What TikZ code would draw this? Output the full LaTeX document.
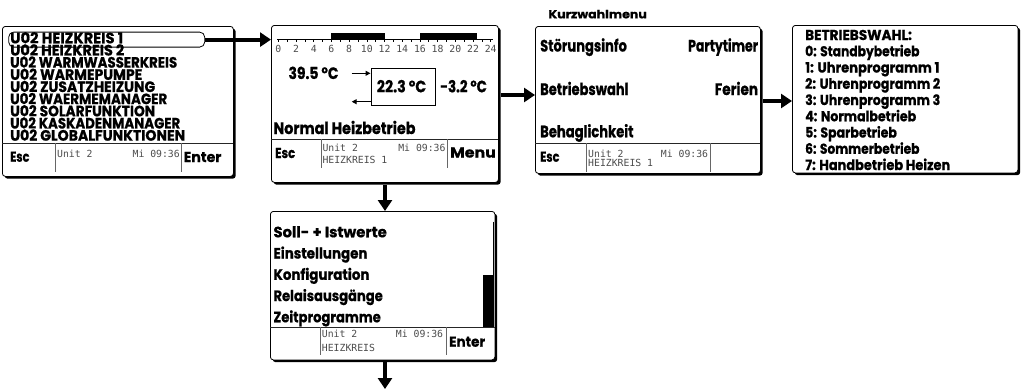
\documentclass[tikz,border=0pt]{standalone}
\usepackage{fontspec}
\usetikzlibrary{arrows.meta,shadows}
\newfontfamily\pop{Poppins}[BoldFeatures={FakeBold=0.8}]
\newfontfamily\lcd{DejaVu Sans Mono}
\definecolor{lcdgray}{gray}{0.3}
\newcommand\fw[2]{\resizebox{#1pt}{\height}{#2}}
\tikzset{
 screen/.style={draw, line width=0.8pt, fill=white, rounded corners=3pt, inner sep=0pt, anchor=north west,
   drop shadow={shadow xshift=2.3pt, shadow yshift=-2.3pt, fill=black, opacity=1}},
 lbl/.style={inner sep=0pt, anchor=base west, font=\pop\bfseries\fontsize{15}{15}\selectfont},
 lblr/.style={lbl, anchor=base east},
 big/.style={font=\pop\bfseries\fontsize{16.5}{16.5}\selectfont},
 sml/.style={font=\pop\bfseries\fontsize{14.3}{14.3}\selectfont},
 mono/.style={inner sep=0pt, anchor=base west, text=lcdgray, font=\lcd\fontsize{9.8}{9.8}\selectfont},
 monor/.style={mono, anchor=base east},
 sepline/.style={line width=0.7pt, black!85},
 divline/.style={line width=0.6pt, black!60},
 fat/.style={line width=4pt, -{Triangle[length=11pt,width=14pt]}},
 slim/.style={line width=1.2pt, -{Triangle[length=5pt,width=5pt]}},
}
\begin{document}
\begin{tikzpicture}[x=1pt,y=-1pt]
\useasboundingbox (0,0) rectangle (1023,389);

% ---------- Box 1
\node[screen, minimum width=231pt, minimum height=150pt] (b1) at (2,26) {};
\node[draw, rounded corners=5pt, line width=0.8pt, minimum width=196pt, minimum height=15pt,
      anchor=north west, inner sep=0pt] (hl) at (8.3,31.7) {};
\foreach \w/\t [count=\i from 0] in {113/U02 HEIZKREIS 1,114/U02 HEIZKREIS 2,167/U02 WARMWASSERKREIS,132/U02 WARMEPUMPE,145/U02 ZUSATZHEIZUNG,157/U02 WAERMEMANAGER,145/U02 SOLARFUNKTION,170/U02 KASKADENMANAGER,175/U02 GLOBALFUNKTIONEN}
  \node[lbl] (m\i) at (10,43.3+12.17*\i) {\fw{\w}{\t}};
\draw[sepline] (2,143) -- (233,143);
\draw[divline] (55,143) -- (55,172);
\draw[divline] (181,143) -- (181,172);
\node[lbl, sml] (esc1) at (10,161.7) {\fw{19.3}{Esc}};
\node[mono] (u1) at (57,157) {Unit 2};
\node[monor] (t1) at (180,157) {Mi 09:36};
\node[lbl, sml] (ent1) at (183.5,162) {\fw{37.7}{Enter}};

% ---------- Box 2
\node[screen, minimum width=227pt, minimum height=157pt] (b2) at (271,25) {};
\draw[line width=0.9pt] (277,39.5) -- (493,39.5);
\foreach \h in {0,...,24} \draw[line width=0.6pt] (278.3+8.85*\h,39.5) -- (278.3+8.85*\h,42);
\fill (278.3+8.85*6,33) rectangle (278.3+8.85*12,39.5);
\fill (278.3+8.85*16,33) rectangle (278.3+8.85*22.5,39.5);
\foreach \h in {0,2,...,24} \node[mono, anchor=base] (h\h) at (278.3+8.85*\h,52) {\h};
\node[lbl, big] (tv) at (288.3,79) {\fw{50}{39.5 °C}};
\node[draw, line width=0.8pt, minimum width=64.5pt, minimum height=36.7pt, anchor=north west, inner sep=0pt] (tbox) at (370.5,68.3) {};
\node[lbl, big] (tr) at (376.7,92.3) {\fw{49.3}{22.3 °C}};
\node[lbl, big] (ta) at (440,92.3) {\fw{46.7}{-3.2 °C}};
\coordinate (a1) at (351.7,73.3);
\coordinate (a2) at (351.7,101.7);
\draw[slim] (a1) -- (tbox.west |- a1);
\draw[slim] (tbox.west |- a2) -- (a2);
\node[lbl, big] (mode) at (273.3,134) {\fw{142}{Normal Heizbetrieb}};
\draw[sepline] (271,139) -- (498,139);
\draw[divline] (321,139) -- (321,168);
\draw[divline] (447,139) -- (447,168);
\node[lbl, sml] (esc2) at (275,158) {\fw{20}{Esc}};
\node[mono] (u2) at (322.3,151.5) {Unit 2};
\node[mono] (k2) at (322.3,163.3) {HEIZKREIS 1};
\node[monor] (t2) at (445.7,151.5) {Mi 09:36};
\node[lbl, sml] (menu) at (450,157.5) {\fw{45.7}{Menu}};

% ---------- Box 3
\node[lbl, font=\pop\bfseries\fontsize{11.5}{11.5}\selectfont] (kw) at (548.3,18.3) {\fw{98.3}{Kurzwahlmenu}};
\node[screen, minimum width=225pt, minimum height=147pt] (b3) at (535,26) {};
\node[lbl, big] (s1) at (540,51.5) {\fw{86.7}{Störungsinfo}};
\node[lblr, big] (s2) at (758.3,51.5) {\fw{70}{Partytimer}};
\node[lbl, big] (s3) at (540,95) {\fw{88.3}{Betriebswahl}};
\node[lblr, big] (s4) at (758.3,95) {\fw{43.3}{Ferien}};
\node[lbl, big] (s5) at (540,137.3) {\fw{93.3}{Behaglichkeit}};
\draw[sepline] (535,143.3) -- (760,143.3);
\draw[divline] (586,143.3) -- (586,171.7);
\draw[divline] (710,143.3) -- (710,171.7);
\node[lbl, sml] (esc3) at (540,161.7) {\fw{19.3}{Esc}};
\node[mono] (u3) at (588,157) {Unit 2};
\node[mono] (k3) at (588,166.7) {HEIZKREIS 1};
\node[monor] (t3) at (708.3,157) {Mi 09:36};

% ---------- Box 4
\node[screen, minimum width=225.5pt, minimum height=147.5pt] (b4) at (792,25) {};
\foreach \w/\t [count=\i from 0] in {106.7/BETRIEBSWAHL:,114.3/0: Standbybetrieb,134.3/1: Uhrenprogramm 1,135/2: Uhrenprogramm 2,135/3: Uhrenprogramm 3,111/4: Normalbetrieb,91.7/5: Sparbetrieb,114.3/6: Sommerbetrieb,145/7: Handbetrieb Heizen}
  \node[lbl, sml] (o\i) at (805,40+16.25*\i) {\fw{\w}{\t}};

% ---------- Box 5
\node[screen, minimum width=224.5pt, minimum height=148.5pt] (b5) at (270,211) {};
\foreach \w/\t [count=\i from 0] in {113.3/Soll- + Istwerte,94/Einstellungen,96/Konfiguration,109.3/Relaisausgänge,107.3/Zeitprogramme}
  \node[lbl] (e\i) at (273.3,237.3+21.25*\i) {\fw{\w}{\t}};
\draw[line width=0.8pt] (493.3,221.7) -- (493.3,327);
\fill (483.3,275) rectangle (493.7,327);
\draw[sepline] (270,327) -- (494.5,327);
\draw[divline] (320,327) -- (320,355);
\draw[divline] (446,327) -- (446,355);
\node[mono] (u5) at (321.7,337.3) {Unit 2};
\node[mono] (k5) at (321.7,351.7) {HEIZKREIS};
\node[monor] (t5) at (443.3,337.3) {Mi 09:36};
\node[lbl, sml] (ent5) at (449,346.7) {\fw{36}{Enter}};

% ---------- Connectors
\draw[fat] (hl.east) -- (b2.west |- hl.east);
\draw[fat] ([xshift=2pt]b2.east |- 0,95) -- (b3.west |- 0,95);
\draw[fat] ([xshift=2pt]b3.east |- 0,101) -- (b4.west |- 0,101);
\draw[fat] ([yshift=-2pt]b2.south -| 385,0) -- (b5.north -| 385,0);
\coordinate (endpt) at (385,389);
\draw[fat] ([yshift=-2pt]b5.south -| 385,0) -- (endpt);
\end{tikzpicture}
\end{document}
